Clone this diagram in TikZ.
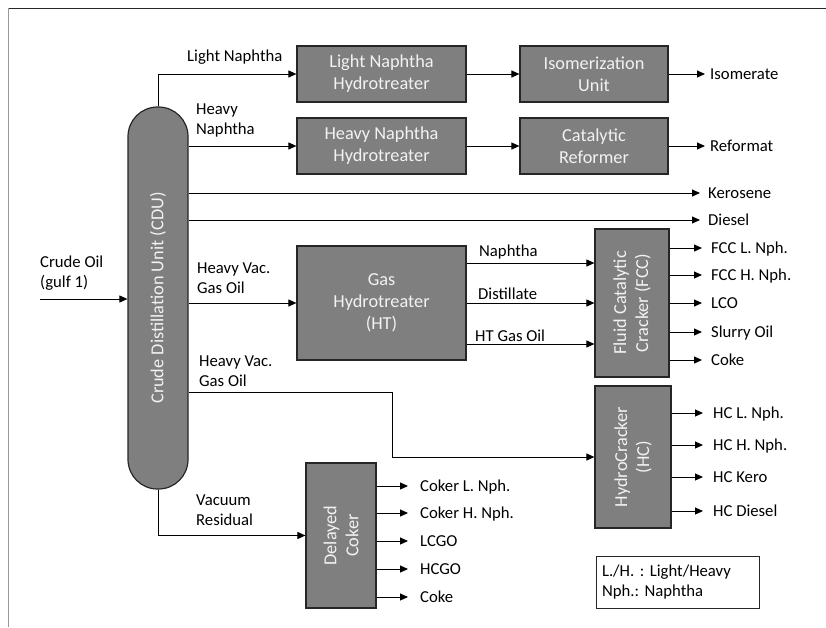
\documentclass[tikz,border=0pt]{standalone}
\usepackage{fontspec}
\setmainfont{Carlito}
\usetikzlibrary{arrows.meta}
\definecolor{boxfill}{RGB}{127,127,127}
\definecolor{boxline}{RGB}{38,38,38}
\definecolor{boxtext}{RGB}{242,242,242}

\begin{document}
\frenchspacing
\begin{tikzpicture}[x=1pt,y=-1pt,
  unit/.style={draw=boxline, fill=boxfill, line width=1.2pt, inner sep=0pt,
    text=boxtext, align=center, font=\fontsize{18.3}{22}\selectfont},
  unittext/.style={text=boxtext, align=center, inner sep=0pt,
    font=\fontsize{18.3}{22}\selectfont},
  lbl/.style={anchor=west, inner sep=0pt, align=left,
    font=\fontsize{16.7}{20}\selectfont},
  prod/.style={anchor=west, inner xsep=0pt, inner ysep=0pt,
    text height=14pt, text depth=3.2pt, font=\fontsize{16.7}{20}\selectfont},
  flow/.style={line width=1pt, -{Triangle[length=8pt,width=7pt]}},
  feed/.style={flow, shorten >=#1},
  feed/.default=7pt
]
\useasboundingbox (0,0) rectangle (826,627);

% page frame
\draw[black!85, line width=1pt] (8,8) -- (826,8);
\draw[black!40, line width=1pt] (8,8) -- (8,627);

% crude distillation column
\node[unit, rounded corners=29.5pt, minimum width=60pt, minimum height=382pt] (cdu) at (158,298) {};
\node[unittext, rotate=90] (cdut) at (cdu.center) {Crude Distillation Unit (CDU)};

% process units
\node[unit, minimum width=169pt, minimum height=56pt] (lnh) at (381.5,74) {Light Naphtha\\Hydrotreater};
\node[unit, minimum width=169pt, minimum height=56pt] (hnh) at (381.5,146) {Heavy Naphtha\\Hydrotreater};
\node[unit, minimum width=148pt, minimum height=56pt] (iso) at (594,74) {Isomerization\\Unit};
\node[unit, minimum width=148pt, minimum height=56pt] (cr) at (594,146) {Catalytic\\Reformer};
\node[unit, minimum width=169pt, minimum height=114pt] (ht) at (381.5,303) {Gas\\Hydrotreater\\(HT)};

\node[unit, minimum width=74pt, minimum height=148pt] (fcc) at (632,303) {};
\node[unittext, rotate=90] (fcct) at (fcc.center) {Fluid Catalytic\\Cracker (FCC)};
\node[unit, minimum width=76pt, minimum height=142pt] (hc) at (633,457) {};
\node[unittext, rotate=90] (hct) at (hc.center) {HydroCracker\\(HC)};
\node[unit, minimum width=70pt, minimum height=145pt] (dc) at (341,535.5) {};
\node[unittext, rotate=90] (dct) at (dc.center) {Delayed\\Coker};

% legend
\node[draw=boxline, line width=1pt, text width=151pt, inner xsep=6pt, inner ysep=0pt,
  minimum height=52pt, align=left, font=\fontsize{16.7}{20}\selectfont] (legend) at (677.5,582)
  {L./H. : Light/Heavy\\Nph.: Naphtha};

% stream labels
\node[lbl] (lcrude) at (40,273) {Crude Oil\\(gulf 1)};
\node[lbl] (lln) at (187,57) {Light Naphtha};
\node[lbl] (lhn) at (196,120) {Heavy\\Naphtha};
\node[lbl] (lhv1) at (197,278) {Heavy Vac.\\Gas Oil};
\node[lbl] (lhv2) at (199,371) {Heavy Vac.\\Gas Oil};
\node[lbl] (lvr) at (196,510) {Vacuum\\Residual};
\node[lbl, anchor=south west] (lnap) at (479,259) {Naphtha};
\node[lbl, anchor=south west] (ldist) at (478,300) {Distillate};
\node[lbl, anchor=south west] (lhtgo) at (475,342) {HT Gas Oil};

% products
\node[prod] (pisom) at (710,74) {Isomerate};
\node[prod] (pref) at (710,146) {Reformat};
\node[prod] (pker) at (708,193) {Kerosene};
\node[prod] (pdie) at (708,220) {Diesel};
\node[prod] (pf1) at (711,248) {FCC L. Nph.};
\node[prod] (pf2) at (711,275) {FCC H. Nph.};
\node[prod] (pf3) at (711,303) {LCO};
\node[prod] (pf4) at (711,332) {Slurry Oil};
\node[prod] (pf5) at (711,360) {Coke};
\node[prod] (ph1) at (713,413) {HC L. Nph.};
\node[prod] (ph2) at (713,445) {HC H. Nph.};
\node[prod] (ph3) at (713,477) {HC Kero};
\node[prod] (ph4) at (713,511) {HC Diesel};
\node[prod] (pc1) at (420,486) {Coker L. Nph.};
\node[prod] (pc2) at (420,513) {Coker H. Nph.};
\node[prod] (pc3) at (420,541) {LCGO};
\node[prod] (pc4) at (420,569) {HCGO};
\node[prod] (pc5) at (420,597) {Coke};

% feed
\coordinate (crude) at (40,299);
\draw[flow] (crude) -- (crude -| cdu.west);

% CDU draws
\draw[flow] (cdu.north) |- (lnh.west);
\draw[flow] (cdu.east |- hnh.west) -- (hnh.west);
\draw[feed=8pt] (cdu.east |- pker.west) -- (pker.west);
\draw[feed=8pt] (cdu.east |- pdie.west) -- (pdie.west);
\draw[flow] (cdu.east |- ht.west) -- (ht.west);
\coordinate (bend) at (392,392);
\draw[flow] (cdu.east |- bend) -- (bend) |- (hc.west);
\draw[flow] (cdu.south) |- (dc.west);

% naphtha trains
\draw[flow] (lnh) -- (iso);
\draw[flow] (hnh) -- (cr);
\draw[feed=5pt] (iso.east) -- (pisom.west);
\draw[feed=5pt] (cr.east) -- (pref.west);

% hydrotreater to FCC
\draw[flow] ([yshift=40pt]ht.east) -- ([yshift=40pt]ht.east -| fcc.west);
\draw[flow] (ht.east) -- (ht.east -| fcc.west);
\draw[flow] ([yshift=-41pt]ht.east) -- ([yshift=-41pt]ht.east -| fcc.west);

% unit products
\foreach \p in {pf1,pf2,pf3,pf4,pf5}
  \draw[feed=9pt] (fcc.east |- \p.west) -- (\p.west);
\foreach \p in {ph1,ph2,ph3,ph4}
  \draw[feed=10pt] (hc.east |- \p.west) -- (\p.west);
\foreach \p in {pc1,pc2,pc3,pc4,pc5}
  \draw[feed=12pt] (dc.east |- \p.west) -- (\p.west);
\end{tikzpicture}
\end{document}
